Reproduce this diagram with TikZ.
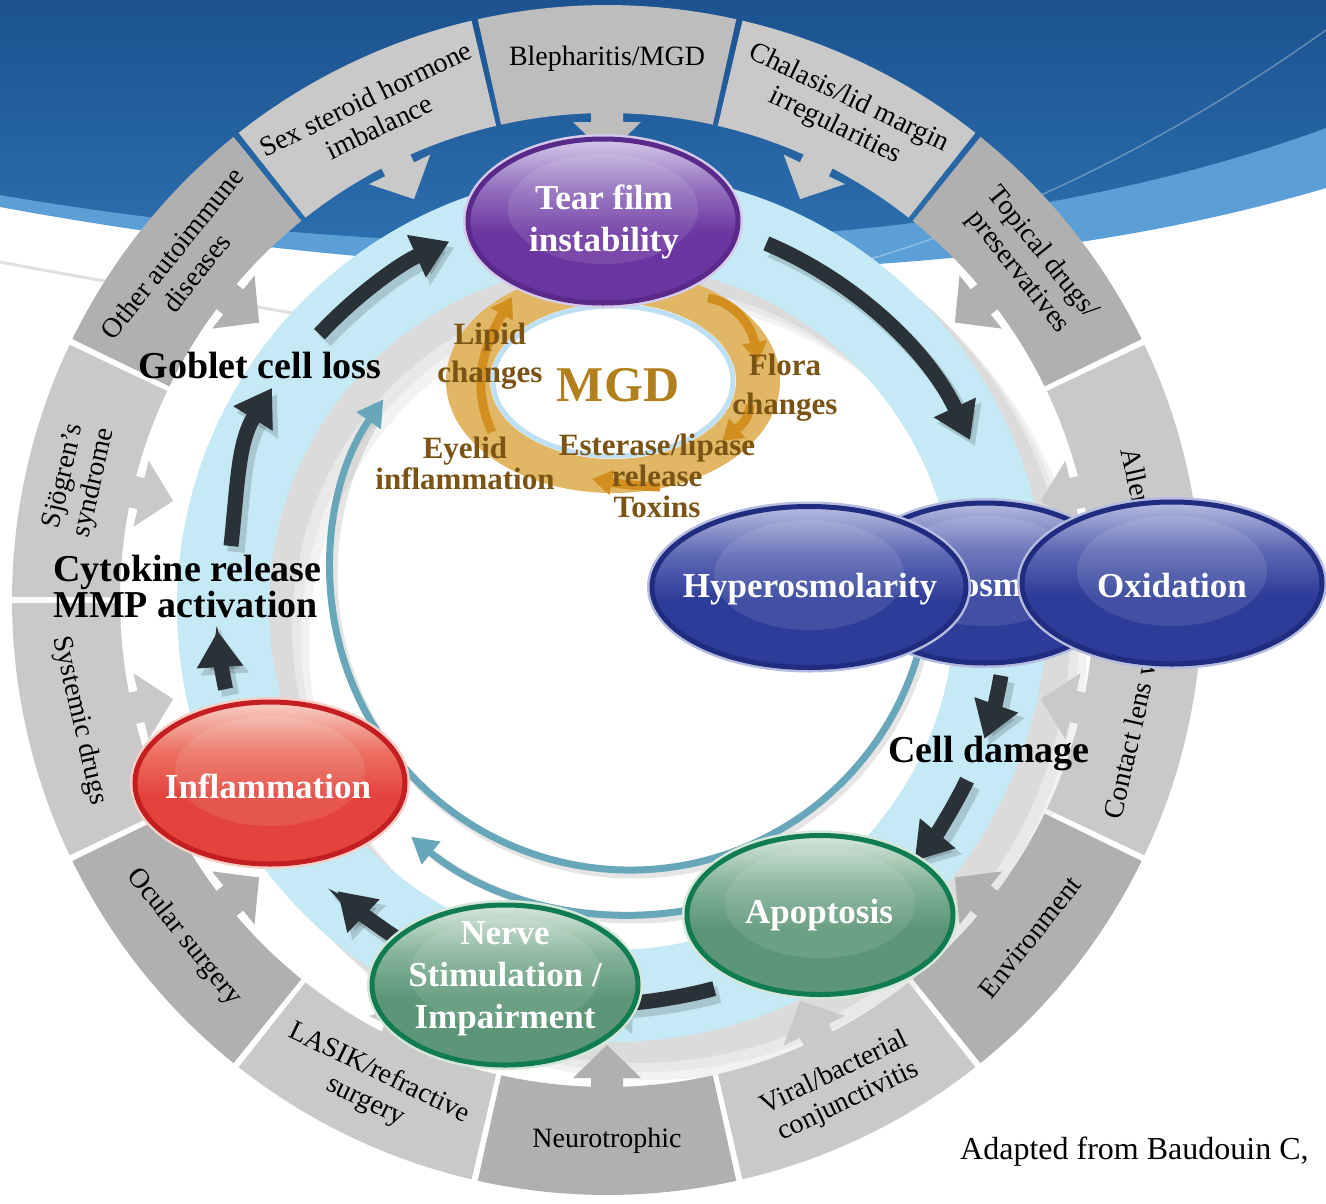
\documentclass[tikz,border=0pt]{standalone}
\usepackage{fontspec}
\setmainfont{Liberation Serif}
\usetikzlibrary{shapes.geometric,arrows.meta}

\definecolor{bgdark}{HTML}{1C5290}
\definecolor{bgmid}{HTML}{2E72B2}
\definecolor{bglight}{HTML}{5C9FD6}
\definecolor{seglight}{HTML}{C9C9C9}
\definecolor{segdark}{HTML}{B0B0B0}
\definecolor{segmid}{HTML}{BDBDBD}
\definecolor{ringblue}{HTML}{C5E9F5}
\definecolor{tealarc}{HTML}{68A7B9}
\definecolor{arrowdark}{HTML}{2A3238}
\definecolor{mgdring}{HTML}{E1B664}
\definecolor{mgdarrow}{HTML}{D28E1E}
\definecolor{mgdtext}{HTML}{B27F1D}
\definecolor{mgdlabel}{HTML}{7B5414}
\definecolor{mgdglow}{HTML}{BFE0F4}

\definecolor{puE}{HTML}{5A2A8A}\definecolor{puB}{HTML}{6B35A1}\definecolor{puM}{HTML}{9270BE}\definecolor{puL}{HTML}{D6C9EA}
\definecolor{blE}{HTML}{1F2C80}\definecolor{blB}{HTML}{2E3C99}\definecolor{blM}{HTML}{5D68B4}\definecolor{blL}{HTML}{B6BBE0}
\definecolor{rdE}{HTML}{C41E22}\definecolor{rdB}{HTML}{E3433C}\definecolor{rdM}{HTML}{EC7262}\definecolor{rdL}{HTML}{F8CFC6}
\definecolor{grE}{HTML}{117B51}\definecolor{grB}{HTML}{5C9676}\definecolor{grM}{HTML}{86B39A}\definecolor{grL}{HTML}{D5E7DB}

\pgfdeclareverticalshading{pushade}{100bp}{color(0bp)=(puB); color(25bp)=(puB); color(46bp)=(puB); color(60bp)=(puM); color(75bp)=(puL); color(100bp)=(puL)}
\pgfdeclareverticalshading{blshade}{100bp}{color(0bp)=(blB); color(25bp)=(blB); color(46bp)=(blB); color(60bp)=(blM); color(75bp)=(blL); color(100bp)=(blL)}
\pgfdeclareverticalshading{rdshade}{100bp}{color(0bp)=(rdB); color(25bp)=(rdB); color(46bp)=(rdB); color(60bp)=(rdM); color(75bp)=(rdL); color(100bp)=(rdL)}
\pgfdeclareverticalshading{grshade}{100bp}{color(0bp)=(grB); color(25bp)=(grB); color(46bp)=(grB); color(60bp)=(grM); color(75bp)=(grL); color(100bp)=(grL)}

\tikzset{
  seglabel/.style={font=\fontsize{28}{31}\selectfont, align=center, text=black, inner sep=0pt},
  bubble/.style={ellipse, inner sep=0pt, line width=5pt, shade,
     path picture={\fill[white,opacity=0.10] ([yshift=12pt]path picture bounding box.center) ellipse[x radius=95, y radius=55];}},
  bubbletext/.style={inner sep=0pt, align=center, text=white, font=\fontsize{35}{42}\selectfont\bfseries},
  purplebubble/.style={bubble, draw=puE, shading=pushade, preaction={draw=puL, line width=10pt}},
  bluebubble/.style={bubble, draw=blE, shading=blshade, preaction={draw=blL, line width=10pt}},
  redbubble/.style={bubble, draw=rdE, shading=rdshade, preaction={draw=rdL, line width=10pt}},
  greenbubble/.style={bubble, draw=grE, shading=grshade, preaction={draw=grL, line width=10pt}},
  darkarr/.style={draw=arrowdark, line width=15pt, -{Triangle[width=44pt,length=36pt]}},
  darkshadow/.style={draw=black, opacity=0.15, line width=17pt, -{Triangle[width=46pt,length=37pt]}},
  tealarr/.style={draw=tealarc, line width=7pt, -{Triangle[width=28pt,length=26pt]}},
  tealshadow/.style={draw=black, opacity=0.10, line width=9pt},
  mgdarr/.style={draw=mgdarrow, line width=9pt, -{Triangle[width=24pt,length=20pt]}},
  blacklabel/.style={font=\fontsize{38}{36}\selectfont\bfseries, text=black, inner sep=0pt},
  mgdlab/.style={font=\fontsize{31}{31}\selectfont\bfseries, text=mgdlabel, align=center, inner sep=0pt},
}

% segment of the outer ring with its inward arrow and label
% #1 angle, #2 colour, #3 text rotation, #4 name, #5 text, #6 label angle
\newcommand\drawseg[6]{%
  \begin{scope}[shift={(607,-600)},rotate=#1]
    \fill[#2] (-12.55:487) arc[start angle=-12.55,end angle=12.55,radius=487]
      -- (12.55:595) arc[start angle=12.55,end angle=-12.55,radius=595] -- cycle;
    \fill[#2] (495,16) -- (478,16) -- (478,34) -- (445,0) -- (478,-34) -- (478,-16) -- (495,-16) -- cycle;
  \end{scope}
  \node[seglabel, rotate=#3] (#4) at ([shift={(#6:541)}]607,-600) {#5};
}
% dark arrow along the light blue ring
\newcommand\darkarc[4]{%
  \coordinate (#1) at ([shift={(#2:#4)}]612,-607);
  \draw[darkshadow] ([shift={(5,-6)}]#1) arc[start angle=#2,end angle=#3,radius=#4];
  \draw[darkarr] (#1) arc[start angle=#2,end angle=#3,radius=#4];}

\begin{document}
\begin{tikzpicture}[x=1pt,y=1pt]
\useasboundingbox (0,0) rectangle (1326,-1203);
\fill[white] (0,0) rectangle (1326,-1203);

% background swoosh
\fill[bglight] (0,0) -- (1326,0) -- (1326,-188) .. controls (950,-300) and (450,-290) .. (0,-207) -- cycle;
\shade[top color=bgdark, bottom color=bgmid] (0,0) -- (1326,0) -- (1326,-128) .. controls (960,-262) and (450,-272) .. (0,-195) -- cycle;
\draw[white, opacity=0.3, line width=1.5pt] (860,-262) .. controls (1040,-210) and (1200,-120) .. (1326,-30);
\draw[black!20, line width=3pt, opacity=0.6] (0,-262) .. controls (110,-283) and (210,-298) .. (320,-318);

% soft shadow of the light blue ring
\fill[black!5, even odd rule] (652,-645) circle[radius=435] (652,-645) circle[radius=343];
\fill[black!9, even odd rule] (644,-637) circle[radius=435] (644,-637) circle[radius=343];
\fill[black!14, even odd rule] (635,-628) circle[radius=435] (635,-628) circle[radius=343];

% outer ring of causes
\drawseg{90}{segmid}{0}{sBleph}{Blepharitis/MGD}{90}
\drawseg{64.29}{seglight}{-25.71}{sChal}{Chalasis/lid margin\\irregularities}{64.29}
\drawseg{38.57}{segdark}{-51.43}{sTop}{Topical drugs/\\preservatives}{38.57}
\drawseg{12.86}{seglight}{-77.14}{sAll}{Allergy}{11.7}
\drawseg{-12.86}{seglight}{77.14}{sCon}{Contact lens wear}{-12.86}
\drawseg{-38.57}{segdark}{51.43}{sEnv}{Environment}{-38.57}
\drawseg{-64.29}{seglight}{25.71}{sVir}{Viral/bacterial\\conjunctivitis}{-64.29}
\drawseg{-90}{segdark}{0}{sNeu}{Neurotrophic}{-90}
\drawseg{-115.71}{seglight}{-25.71}{sLas}{LASIK/refractive\\surgery}{-115.71}
\drawseg{-141.43}{segdark}{-51.43}{sOcu}{Ocular surgery}{-141.43}
\drawseg{-167.14}{seglight}{-77.14}{sSys}{Systemic drugs}{-167.14}
\drawseg{167.14}{seglight}{77.14}{sSjo}{Sjögren’s\\syndrome}{167.14}
\drawseg{141.43}{segdark}{51.43}{sOth}{Other autoimmune\\diseases}{141.43}
\drawseg{115.71}{seglight}{25.71}{sSex}{Sex steroid hormone\\imbalance}{115.71}

% light blue ring
\fill[ringblue, even odd rule] (612,-607) circle[radius=435] (612,-607) circle[radius=343];

% MGD ring
\fill[mgdring, even odd rule] (613,-381) ellipse[x radius=167, y radius=112] (613,-381) ellipse[x radius=123, y radius=78];
\draw[mgdglow, line width=5pt] (613,-381) ellipse[x radius=120, y radius=75];
\coordinate (m1s) at (492,-432); \coordinate (m1e) at (512,-297);
\draw[mgdarr] (m1s) to[out=115,in=240] (m1e);
\coordinate (m2s) at (708,-298); \coordinate (m2e) at (758,-362);
\draw[mgdarr] (m2s) to[out=-10,in=100] (m2e);
\coordinate (m3s) at (750,-405); \coordinate (m3e) at (722,-441);
\draw[mgdarr] (m3s) to[out=-95,in=40] (m3e);
\coordinate (m4s) at (660,-487); \coordinate (m4e) at (592,-479);
\draw[mgdarr] (m4s) to[out=178,in=-10] (m4e);

% teal feedback arcs
\coordinate (t1s) at ([shift={(-13:300)}]630,-570);
\draw[tealshadow] ([shift={(3,-4)}]t1s) arc[start angle=-13,end angle=-210,radius=300];
\draw[tealarr] (t1s) arc[start angle=-13,end angle=-214.7,radius=300];
\coordinate (t2s) at ([shift={(-75:345)}]630,-570);
\draw[tealshadow] ([shift={(3,-4)}]t2s) arc[start angle=-75,end angle=-125,radius=345];
\draw[tealarr] (t2s) arc[start angle=-75,end angle=-129.4,radius=345];

% dark cycle arrows
\darkarc{d1}{67}{25}{395}
\darkarc{d2}{-10}{-19.5}{395}
\darkarc{d3}{-26}{-40}{395}
\darkarc{d4}{-75}{-93}{395}
\darkarc{d5}{-123}{-134}{395}
\darkarc{d6}{-168}{-176.5}{395}
\coordinate (d7s) at (231,-546); \coordinate (d7e) at (272,-388);
\draw[darkshadow] ([shift={(5,-6)}]d7s) to[out=84,in=238] ([shift={(5,-6)}]d7e);
\draw[darkarr] (d7s) to[out=84,in=238] (d7e);
\darkarc{d8}{137}{114}{400}

% bubbles
\node[bluebubble, minimum width=274pt, minimum height=160pt] (osmo) at (985,-583) {};
\node[bubbletext] (osmT) at (992,-588) {osm};
\node[bluebubble, minimum width=314pt, minimum height=161pt] (hyper) at (809,-587) {};
\node[bubbletext] (hyperT) at (810,-589) {Hyperosmolarity};
\node[bluebubble, minimum width=300pt, minimum height=162pt] (oxid) at (1172,-583) {};
\node[bubbletext] (oxidT) at (1172,-586) {Oxidation};
\node[purplebubble, minimum width=270pt, minimum height=164pt] (tear) at (603,-221) {};
\node[bubbletext] (tearT) at (604,-222) {Tear film\\instability};
\node[redbubble, minimum width=270pt, minimum height=162pt] (infl) at (270,-783) {};
\node[bubbletext] (inflT) at (268,-786) {Inflammation};
\node[greenbubble, minimum width=266pt, minimum height=159pt] (apop) at (820,-915) {};
\node[bubbletext] (apopT) at (819,-915) {Apoptosis};
\node[greenbubble, minimum width=266pt, minimum height=160pt] (nerve) at (505,-985) {};
\node[bubbletext] (nerveT) at (505,-979) {Nerve\\Stimulation /\\Impairment};

% labels
\node[blacklabel] (goblet) at (260,-365) {Goblet cell loss};
\node[blacklabel, anchor=west, align=left] (cyto) at (53,-586) {Cytokine release\\MMP activation};
\node[blacklabel] (celldmg) at (989,-753) {Cell damage};

\node[font=\fontsize{50}{50}\selectfont\bfseries, text=mgdtext, inner sep=0pt] (mgd) at (618,-385) {MGD};
\node[mgdlab, font=\fontsize{31}{38}\selectfont\bfseries] (lipid) at (490,-356) {Lipid\\changes};
\node[mgdlab, font=\fontsize{31}{39}\selectfont\bfseries] (flora) at (785,-388) {Flora\\changes};
\node[mgdlab] (ester) at (657,-476) {Esterase/lipase\\release\\Toxins};
\node[mgdlab] (eyelid) at (465,-463) {Eyelid\\inflammation};

\node[anchor=west, font=\fontsize{32}{34}\selectfont, inner sep=0pt] (credit) at (960,-1152) {Adapted from Baudouin C,};
\end{tikzpicture}
\end{document}
